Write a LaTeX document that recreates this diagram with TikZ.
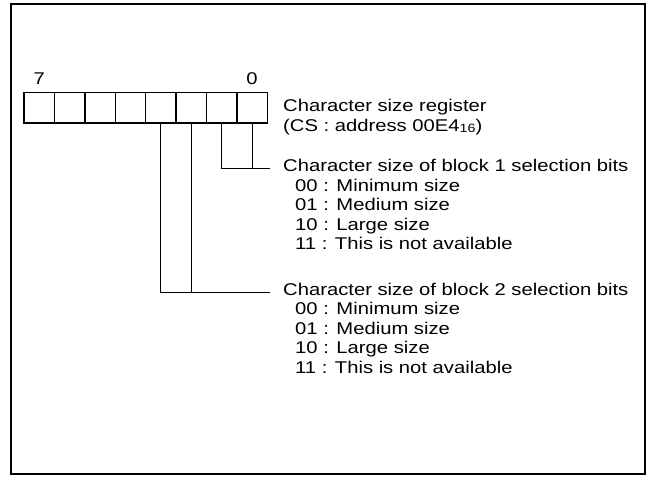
\documentclass[tikz,border=0pt]{standalone}
\usepackage{fontspec}
\setmainfont{Liberation Sans}[FakeStretch=1.19]
\usetikzlibrary{calc}

\tikzset{
	txt/.style={anchor=base west,inner sep=0pt},
	cell/.style={draw,line width=1.5pt,minimum width=30.4pt,minimum height=30pt,inner sep=0pt,anchor=north east},
	lead/.style={line width=1pt}
}

\begin{document}
\begin{tikzpicture}[x=1pt,y=-1pt,font=\fontsize{17}{17}\selectfont]
		\useasboundingbox (0,0) rectangle (647,476);
		\draw[line width=2pt] (11,4) rectangle (645,474);
%		
		\foreach \i in {0,...,7}
			\node[cell] (b\i) at ({268-30.4*\i},92) {};
		\node[anchor=base] (n7) at (b7.north |- 0,85) {7};
		\node[anchor=base] (n0) at (b0.north |- 0,85) {0};
%
		\node[txt] (reg) at (283,112) {Character size register};
		\node[txt] (cs) at (283,131.6) {(CS : address 00E4\raisebox{-1pt}{\fontsize{12}{12}\selectfont 16})};
		\node[txt] (blk1) at (283,171.5) {Character size of block 1 selection bits};
		\node[txt] (blk2) at (283,295) {Character size of block 2 selection bits};
		\foreach \v/\t [count=\k] in {00/Minimum size,01/Medium size,10/Large size,11/This is not available}{
			\node[txt] (sa\k) at (295,171.5+19.6*\k) {\v{} : \t};
			\node[txt] (sb\k) at (295,295+19.6*\k) {\v{} : \t};
		}
%
		\draw[lead] (b1.south) |- ($(blk1.mid west)+(-13,0)$);
		\draw[lead] (b0.south) -- (b0.south |- blk1.mid west);
		\draw[lead] (b3.south) |- ($(blk2.mid west)+(-13,0)$);
		\draw[lead] (b2.south) -- (b2.south |- blk2.mid west);
	\end{tikzpicture}
\end{document}
